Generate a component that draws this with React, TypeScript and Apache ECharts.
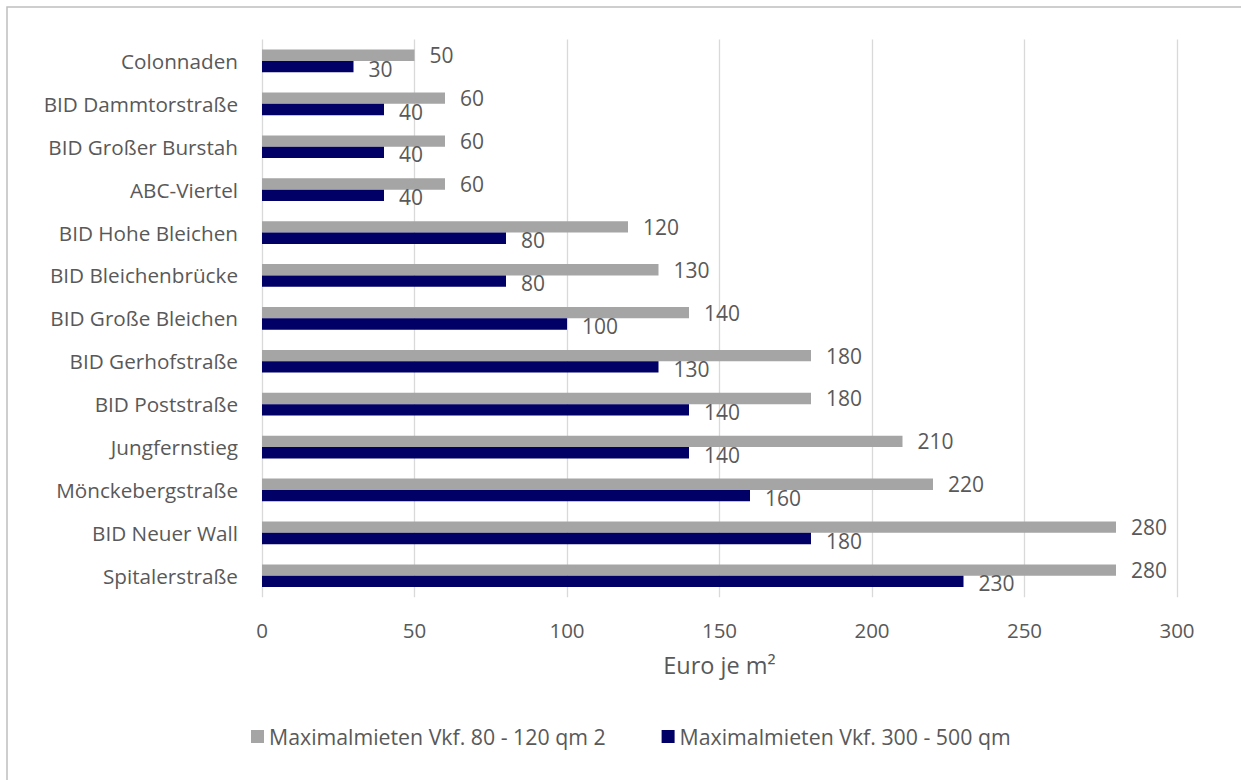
import React, { useEffect, useRef } from "react";
import * as echarts from "echarts";

const categories = [
  "Colonnaden",
  "BID Dammtorstraße",
  "BID Großer Burstah",
  "ABC-Viertel",
  "BID Hohe Bleichen",
  "BID Bleichenbrücke",
  "BID Große Bleichen",
  "BID Gerhofstraße",
  "BID Poststraße",
  "Jungfernstieg",
  "Mönckebergstraße",
  "BID Neuer Wall",
  "Spitalerstraße",
];
const seriesSmallName = "Maximalmieten Vkf. 80 - 120 qm 2";
const seriesLargeName = "Maximalmieten Vkf. 300 - 500 qm";
const smallValues = [50, 60, 60, 60, 120, 130, 140, 180, 180, 210, 220, 280, 280];
const largeValues = [30, 40, 40, 40, 80, 80, 100, 130, 140, 140, 160, 180, 230];
const xTicks = { min: 0, max: 300, interval: 50 };
const axisTitle = "Euro je m²";

const FONT = "'Open Sans', sans-serif";
const TEXT = "#595959";

export default function App() {
  const ref = useRef<HTMLDivElement>(null);
  useEffect(() => {
    if (!ref.current) return;
    const chart = echarts.init(ref.current, undefined, { renderer: "svg" });
    chart.setOption({
      animation: false,
      backgroundColor: "#ffffff",
      textStyle: { fontFamily: FONT, color: TEXT },
      graphic: [
        {
          type: "rect",
          shape: { x: 7, y: 7, width: 1400, height: 900 },
          style: { fill: "none", stroke: "#bfbfbf", lineWidth: 1.5 },
          silent: true,
        },
      ],
      grid: { left: 262, right: 1241 - 1177, top: 39.5, bottom: 780 - 597.2, containLabel: false },
      legend: {
        top: 721,
        left: 246,
        itemWidth: 13,
        itemHeight: 13,
        itemGap: 56,
        icon: "rect",
        textStyle: { fontFamily: FONT, fontSize: 21.3, color: TEXT },
        data: [seriesSmallName, seriesLargeName],
      },
      xAxis: {
        type: "value",
        min: xTicks.min,
        max: xTicks.max,
        interval: xTicks.interval,
        name: axisTitle,
        nameLocation: "middle",
        nameGap: 56,
        nameTextStyle: { fontFamily: FONT, fontSize: 23.5, color: TEXT },
        axisLine: { show: false },
        axisTick: { show: false },
        axisLabel: { margin: 22, fontFamily: FONT, fontSize: 20.5, color: TEXT },
        splitLine: { show: true, lineStyle: { color: "#d9d9d9", width: 1.3 } },
      },
      yAxis: {
        type: "category",
        inverse: true,
        data: categories,
        axisLine: { show: false },
        axisTick: { show: false },
        axisLabel: { margin: 24, fontFamily: FONT, fontSize: 20.7, color: TEXT },
      },
      series: [
        {
          name: seriesSmallName,
          type: "bar",
          data: smallValues,
          barGap: "0%",
          barCategoryGap: "47%",
          itemStyle: { color: "#a5a5a5" },
          label: {
            show: true,
            position: "right",
            distance: 15,
            fontFamily: FONT,
            fontSize: 21,
            color: TEXT,
          },
        },
        {
          name: seriesLargeName,
          type: "bar",
          data: largeValues,
          barGap: "0%",
          barCategoryGap: "47%",
          itemStyle: { color: "#000066" },
          label: {
            show: true,
            position: "right",
            distance: 15,
            offset: [0, 2],
            fontFamily: FONT,
            fontSize: 21,
            color: TEXT,
          },
        },
      ],
    });
    return () => chart.dispose();
  }, []);
  return (
    <div
      ref={ref}
      style={{ position: "fixed", left: 0, top: 0, width: 1241, height: 780 }}
    />
  );
}
